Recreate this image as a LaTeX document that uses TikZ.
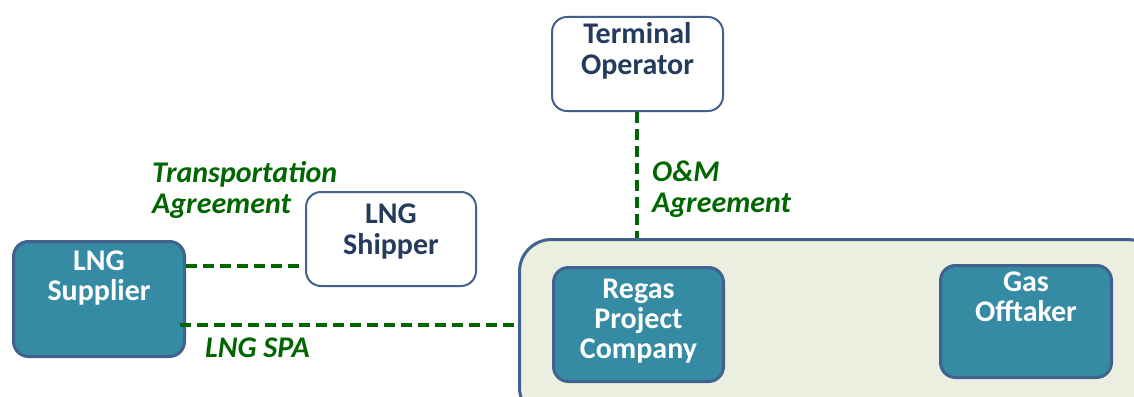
\documentclass[tikz,border=0pt]{standalone}
\usepackage{fontspec}
\setmainfont{Carlito}
\definecolor{teal}{HTML}{358AA4}
\definecolor{edge}{HTML}{41628F}
\definecolor{navy}{HTML}{243B5E}
\definecolor{lgreen}{HTML}{006600}
\definecolor{pale}{HTML}{EBEFE0}
\tikzset{
  tealbox/.style={draw=edge, line width=3pt, fill=teal, rounded corners=15pt, inner sep=0pt},
  whitebox/.style={draw=edge, line width=2pt, fill=white, rounded corners=15pt, inner sep=0pt},
  wtext/.style={text=white, font=\fontsize{30}{30}\selectfont\bfseries, align=center, anchor=north, inner sep=0pt},
  ntext/.style={text=navy, font=\fontsize{30}{31}\selectfont\bfseries, align=center, anchor=north, inner sep=0pt},
  gtext/.style={text=lgreen, font=\fontsize{30}{31}\selectfont\bfseries\itshape, align=left, anchor=north west, inner sep=0pt},
  link/.style={draw=lgreen, line width=3.3pt, dash pattern=on 11pt off 6pt},
}
\begin{document}
\begin{tikzpicture}[x=1pt,y=-1pt]
\useasboundingbox (0,0) rectangle (1134,396);
\clip (0,0) rectangle (1134,396);
% container
\node[draw=edge, line width=3pt, fill=pale, rounded corners=32pt, minimum width=640pt, minimum height=180pt, anchor=north west, inner sep=0pt] (cont) at (518,238) {};
% boxes
\node[tealbox, minimum width=171pt, minimum height=115pt, anchor=north west] (sup) at (12,240) {};
\node[whitebox, minimum width=170pt, minimum height=94pt, anchor=north west] (ship) at (305,191) {};
\node[whitebox, minimum width=171pt, minimum height=94pt, anchor=north west] (term) at (551,16) {};
\node[tealbox, minimum width=170pt, minimum height=114pt, anchor=north west] (regas) at (552,266) {};
\node[tealbox, minimum width=171pt, minimum height=112pt, anchor=north west] (off) at (939,264) {};
% texts
\node[wtext] (tsup) at ([yshift=-11pt]sup.north) {LNG\\Supplier};
\node[ntext] (tship) at ([yshift=-13pt]ship.north) {LNG\\Shipper};
\node[ntext] (tterm) at ([yshift=-6pt]term.north) {Terminal\\Operator};
\node[wtext] (tregas) at ([yshift=-13pt]regas.north) {Regas\\Project\\Company};
\node[wtext] (toff) at ([yshift=-8pt]off.north) {Gas\\Offtaker};
% connectors
\coordinate (s1) at (sup.east |- 0,266);
\coordinate (s2) at (ship.west |- 0,266);
\draw[link] (s1) -- (s2);
\coordinate (p1) at (180,325);
\coordinate (p2) at (cont.west |- 0,325);
\draw[link] (p1) -- (p2);
\coordinate (t1) at (637,0 |- term.south);
\coordinate (t2) at (637,0 |- cont.north);
\draw[link] (t1) -- (t2);
% labels
\node[gtext] (ltr) at (152,161) {Transportation\\Agreement};
\node[gtext] (lspa) at (205,338) {LNG SPA};
\node[gtext] (lom) at (652,161) {O\&M\\Agreement};
\end{tikzpicture}
\end{document}
